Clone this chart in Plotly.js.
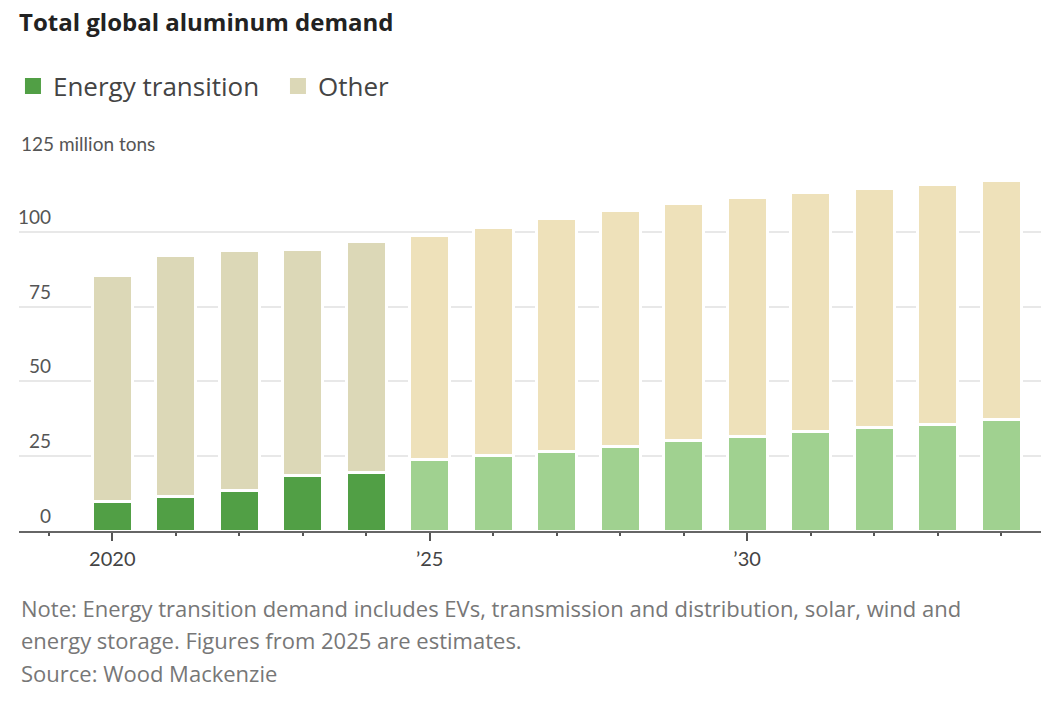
<!DOCTYPE html>
<html>
<head>
<meta charset="utf-8">
<script src="https://cdn.plot.ly/plotly-3.0.1.min.js"></script>
<style>
html,body{margin:0;padding:0;background:#fff;}
#chart{width:1059px;height:713px;}
</style>
</head>
<body>
<div id="chart"></div>
<script>
// Data (million tons)
var years = [2020,2021,2022,2023,2024,2025,2026,2027,2028,2029,2030,2031,2032,2033,2034];
var energyTransition = [9.7,11.5,13.4,18.4,19.7,24.0,25.1,26.5,28.2,30.1,31.5,33.3,34.6,35.7,37.4];
var other = [75.8,80.7,80.2,75.8,77.0,74.9,76.4,78.1,79.0,79.5,79.9,80.0,80.0,80.1,79.6];
var firstEstimateYear = 2025;
var seriesNames = ["Energy transition","Other"];
var yTickVals = [0,25,50,75,100,125];
var yTickText = ["0","25","50","75","100","125 million tons"];
var xTickVals = [2020,2025,2030];
var xTickText = ["2020","\u201925","\u201930"];

var FONT = "'Open Sans', 'Noto Sans', sans-serif";
var AXFONT = "Lato, 'Open Sans', sans-serif";
var ET_ACTUAL = "#519f45", ET_EST = "#a0d190", OT_ACTUAL = "#dcd8b7", OT_EST = "#eee1ba";
var etColors = years.map(function(y){ return y < firstEstimateYear ? ET_ACTUAL : ET_EST; });
var otColors = years.map(function(y){ return y < firstEstimateYear ? OT_ACTUAL : OT_EST; });

var traces = [
  {type:"bar", name:seriesNames[0], x:years, y:energyTransition, showlegend:false,
   marker:{color:etColors, line:{color:"#ffffff", width:3}}},
  {type:"bar", name:seriesNames[1], x:years, y:other, showlegend:false,
   marker:{color:otColors, line:{color:"#ffffff", width:3}}},
  // legend keys
  {type:"scatter", mode:"markers", name:seriesNames[0], x:[null], y:[null], showlegend:true,
   marker:{symbol:"square", size:16, color:ET_ACTUAL}},
  {type:"scatter", mode:"markers", name:seriesNames[1], x:[null], y:[null], showlegend:true,
   marker:{symbol:"square", size:16, color:OT_ACTUAL}}
];

var annotations = [];
yTickVals.forEach(function(v,i){
  var last = (i === yTickVals.length-1);
  annotations.push({xref:"paper", yref:"y", x: last ? 0 : 0.0333, y:v,
    xanchor: last ? "left" : "right", yanchor:"bottom", yshift: last ? 0 : 2,
    text:yTickText[i], showarrow:false,
    font:{family:AXFONT, size:19, color:"#555"}});
});
var noteLines = [
  {t:"Note: Energy transition demand includes EVs, transmission and distribution, solar, wind and", py:608},
  {t:"energy storage. Figures from 2025 are estimates.", py:640},
  {t:"Source: Wood Mackenzie", py:673}
];
noteLines.forEach(function(n){
  annotations.push({xref:"paper", yref:"paper", x:0, y:(531-n.py)/374,
    xanchor:"left", yanchor:"middle", text:n.t, showarrow:false,
    font:{family:FONT, size:22, color:"#777"}});
});

var layout = {
  width:1059, height:713,
  margin:{l:19, r:18, t:157, b:182},
  paper_bgcolor:"#fff", plot_bgcolor:"#fff",
  barmode:"stack", bargap:0.37,
  title:{text:"<b>Total global aluminum demand</b>", x:0.018, xanchor:"left",
    xref:"container", y:0.969, yanchor:"middle", yref:"container",
    font:{family:FONT, size:24, color:"#222"}},
  showlegend:true,
  legend:{orientation:"h", x:-0.0059, xanchor:"left", y:(531-86)/374, yanchor:"middle",
    entrywidth:220, entrywidthmode:"pixels",
    font:{family:FONT, size:26, color:"#444"}, traceorder:"normal", itemclick:false},
  xaxis:{range:[2018.53,2034.63], tickmode:"array", tickvals:xTickVals, ticktext:xTickText,
    ticks:"outside", ticklen:8, tickwidth:2, tickcolor:"#555",
    minor:{ticks:"outside", tick0:2020, dtick:1, ticklen:3, tickwidth:2, tickcolor:"#555", showgrid:false},
    showline:true, linecolor:"#666", linewidth:2, showgrid:false, zeroline:false,
    ticklabelstandoff:1,
    tickfont:{family:AXFONT, size:20, color:"#444"}, fixedrange:true},
  yaxis:{range:[0,125], tickmode:"array", tickvals:yTickVals, showticklabels:false,
    showgrid:true, gridcolor:"#e8e8e8", gridwidth:2, zeroline:false, showline:false,
    ticks:"", fixedrange:true},
  annotations:annotations
};

Plotly.newPlot("chart", traces, layout, {displayModeBar:false, staticPlot:true});
</script>
</body>
</html>
